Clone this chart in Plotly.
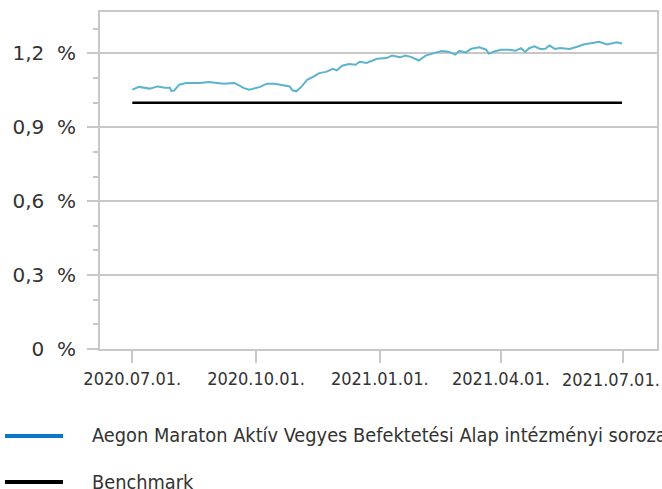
import plotly.graph_objects as go

fund_dates = [
    "2020-07-01", "2020-07-06", "2020-07-14", "2020-07-20", "2020-07-25", "2020-07-29",
    "2020-07-30", "2020-08-01", "2020-08-05", "2020-08-10", "2020-08-20", "2020-08-27",
    "2020-09-02", "2020-09-07", "2020-09-15", "2020-09-22", "2020-09-26", "2020-10-04",
    "2020-10-09", "2020-10-15", "2020-10-19", "2020-10-26", "2020-10-28", "2020-10-31",
    "2020-11-04", "2020-11-08", "2020-11-13", "2020-11-17", "2020-11-22", "2020-11-27",
    "2020-11-30", "2020-12-04", "2020-12-09", "2020-12-14", "2020-12-17", "2020-12-22",
    "2020-12-30", "2021-01-06", "2021-01-10", "2021-01-16", "2021-01-20", "2021-01-24",
    "2021-01-30", "2021-02-04", "2021-02-11", "2021-02-16", "2021-02-21", "2021-02-26",
    "2021-03-01", "2021-03-06", "2021-03-10", "2021-03-16", "2021-03-21", "2021-03-23",
    "2021-03-27", "2021-04-01", "2021-04-07", "2021-04-12", "2021-04-16", "2021-04-19",
    "2021-04-22", "2021-04-26", "2021-04-30", "2021-05-04", "2021-05-07", "2021-05-11",
    "2021-05-15", "2021-05-18", "2021-05-22", "2021-05-27", "2021-06-02", "2021-06-07",
    "2021-06-13", "2021-06-19", "2021-06-22", "2021-06-26", "2021-06-30",
]
fund_values = [
    1.053, 1.064, 1.057, 1.066, 1.061, 1.061,
    1.048, 1.049, 1.073, 1.080, 1.080, 1.084,
    1.080, 1.077, 1.080, 1.059, 1.053, 1.064,
    1.077, 1.077, 1.073, 1.066, 1.050, 1.046,
    1.066, 1.093, 1.107, 1.120, 1.125, 1.137,
    1.131, 1.150, 1.157, 1.154, 1.166, 1.161,
    1.178, 1.181, 1.191, 1.184, 1.191, 1.186,
    1.171, 1.191, 1.202, 1.210, 1.207, 1.195,
    1.210, 1.204, 1.219, 1.225, 1.215, 1.199,
    1.208, 1.215, 1.215, 1.211, 1.221, 1.206,
    1.221, 1.229, 1.218, 1.219, 1.232, 1.218,
    1.222, 1.219, 1.218, 1.226, 1.237, 1.241,
    1.247, 1.236, 1.239, 1.245, 1.240,
]
bench_dates = ["2020-07-01", "2021-06-30"]
bench_values = [1.0, 1.0]

fund_name = "Aegon Maraton Aktív Vegyes Befektetési Alap intézményi sorozat"
bench_name = "Benchmark"

x_tickvals = ["2020-07-01", "2020-10-01", "2021-01-01", "2021-04-01", "2021-07-01"]
x_ticktext = ["2020.07.01.", "2020.10.01.", "2021.01.01.", "2021.04.01.", "2021.07.01."]
y_tickvals = [0, 0.3, 0.6, 0.9, 1.2]
y_ticktext = ["0\u00a0\u00a0%", "0,3\u00a0\u00a0%", "0,6\u00a0\u00a0%", "0,9\u00a0\u00a0%", "1,2\u00a0\u00a0%"]

FUND_COLOR = "#5bb3cd"
LEGEND_BLUE = "#0a78c2"
GRID = "#c8c8c8"
TEXT = "#333333"
COND_FONT = "DejaVu Sans Condensed, Liberation Sans Narrow, Roboto, sans-serif"

fig = go.Figure()
fig.add_trace(go.Scatter(x=bench_dates, y=bench_values, mode="lines",
                         line=dict(color="#000000", width=2.5), showlegend=False))
fig.add_trace(go.Scatter(x=fund_dates, y=fund_values, mode="lines",
                         line=dict(color=FUND_COLOR, width=2), showlegend=False))

# last x label is pulled left so it stays inside the canvas (as in the reference)
shown_ticktext = x_ticktext[:-1] + [""]

fig.update_layout(
    width=662, height=489,
    margin=dict(l=100, r=5, t=12, b=140),
    plot_bgcolor="white", paper_bgcolor="white",
    showlegend=False,
    xaxis=dict(
        range=["2020-06-07", "2021-07-26"],
        tickvals=x_tickvals, ticktext=shown_ticktext,
        ticks="outside", ticklen=12, tickwidth=2, tickcolor=GRID,
        showgrid=False, zeroline=False, automargin=False,
        ticklabeloverflow="allow",
        showline=True, linecolor=GRID, linewidth=2, mirror=True,
        tickfont=dict(family=COND_FONT, size=18, color=TEXT),
    ),
    yaxis=dict(
        range=[0, 1.368],
        tickvals=y_tickvals, ticktext=y_ticktext,
        ticks="outside", ticklen=11, tickwidth=2, tickcolor=GRID,
        showgrid=True, gridcolor=GRID, gridwidth=2, zeroline=False,
        showline=True, linecolor=GRID, linewidth=2, mirror=True,
        automargin=False,
        ticklabelstandoff=7,
        tickfont=dict(family="DejaVu Sans, Verdana, sans-serif", size=20, color=TEXT),
        minor=dict(dtick=0.1, tick0=0, ticks="outside", ticklen=5, tickwidth=2,
                   tickcolor=GRID, showgrid=False),
    ),
)

fig.add_annotation(xref="x", yref="paper", x=x_tickvals[-1], y=0,
                   yshift=-30, xshift=-12, xanchor="center", yanchor="middle",
                   showarrow=False, text=x_ticktext[-1],
                   font=dict(family=COND_FONT, size=18, color=TEXT))

# manual legend
legend_items = [(fund_name, LEGEND_BLUE, -0.258), (bench_name, "#000000", -0.395)]
for name, color, yy in legend_items:
    fig.add_shape(type="line", xref="paper", yref="paper",
                  x0=-0.1706, x1=-0.0664, y0=yy, y1=yy,
                  line=dict(color=color, width=4))
    fig.add_annotation(xref="paper", yref="paper", x=-0.018, y=yy,
                       xanchor="left", yanchor="middle", showarrow=False,
                       text=name, font=dict(family=COND_FONT, size=19.8, color=TEXT))

fig.write_html(
    "out.html",
    config={"displayModeBar": False},
    post_script="document.body.style.margin='0';document.body.style.overflow='hidden';",
)
